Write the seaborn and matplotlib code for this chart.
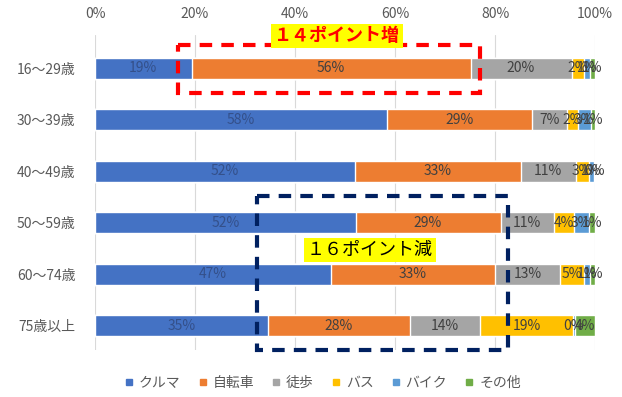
import numpy as np
import pandas as pd
import seaborn as sns
import matplotlib.pyplot as plt
from matplotlib.patches import Rectangle
from matplotlib.lines import Line2D

sns.set_style("white")
plt.rcParams["font.family"] = ["Noto Sans CJK JP", "DejaVu Sans"]

# Travel mode share by age group (%)
age_groups = ["16～29歳", "30～39歳", "40～49歳", "50～59歳", "60～74歳", "75歳以上"]
modes = ["クルマ", "自転車", "徒歩", "バス", "バイク", "その他"]
car = [19.3, 58.3, 51.9, 52.1, 47.2, 34.6]
bicycle = [55.8, 29.1, 33.2, 29.0, 32.8, 28.3]
walk = [20.2, 7.0, 11.0, 10.6, 13.0, 14.1]
bus = [2.4, 2.1, 2.6, 4.0, 4.8, 18.6]
motorbike = [1.2, 2.6, 1.0, 3.1, 1.2, 0.3]
other = [1.0, 0.9, 0.3, 1.2, 1.0, 4.1]
tick_labels = ["0%", "20%", "40%", "60%", "80%", "100%"]

colors = ["#4472C4", "#ED7D31", "#A5A5A5", "#FFC000", "#5B9BD5", "#70AD47"]

values = np.array([car, bicycle, walk, bus, motorbike, other])
cum = np.cumsum(values, axis=0)
df = pd.DataFrame({"age": age_groups})
for i, m in enumerate(modes):
    df[m + "_cum"] = cum[i]

fig = plt.figure(figsize=(6.22, 3.97), dpi=100)
ax = fig.add_axes([95 / 622, 1 - 350 / 397, 500 / 622, 315 / 397])

# Stacked bars: draw cumulative totals from the outermost segment inward
for i in range(len(modes) - 1, -1, -1):
    sns.barplot(data=df, x=modes[i] + "_cum", y="age", color=colors[i],
                width=0.4, saturation=1, orient="h", ax=ax, zorder=2)

# Segment value labels
for i in range(len(modes)):
    for j in range(len(age_groups)):
        v = values[i, j]
        xc = cum[i, j] - v / 2
        tc = "#34508a" if i == 0 else "#404040"
        ax.text(xc, j, f"{v:.0f}%", ha="center", va="center",
                fontsize=10, color=tc, zorder=3)

ax.set_xlim(0, 100)
ax.set_ylim(5.47, -0.645)
ax.set_xticks(np.arange(0, 101, 20))
ax.set_xticklabels(tick_labels)
ax.xaxis.tick_top()
ax.tick_params(axis="x", length=0, pad=10, labelsize=10, colors="#595959")
ax.tick_params(axis="y", length=0, pad=14, labelsize=10, colors="#595959")
ax.set_xlabel("")
ax.set_ylabel("")
ax.grid(axis="x", color="#d9d9d9", linewidth=0.8, zorder=0)
ax.set_axisbelow(True)
for s in ax.spines.values():
    s.set_visible(False)

# Highlight boxes
ax.add_patch(Rectangle((16.6, -0.45), 77.0 - 16.6, 0.94, fill=False,
                       edgecolor="#FF0000", linewidth=3,
                       linestyle=(0, (3, 2.2)), zorder=4, clip_on=False))
ax.add_patch(Rectangle((32.4, 2.48), 82.6 - 32.4, 5.47 - 2.48, fill=False,
                       edgecolor="#002060", linewidth=3,
                       linestyle=(0, (3, 2.2)), zorder=4, clip_on=False))

ax.text(48.4, -0.63, "１４ポイント増", ha="center", va="center", fontsize=13,
        fontweight="bold", color="#FF0000", zorder=5, clip_on=False,
        bbox=dict(facecolor="#FFFF00", edgecolor="none", pad=2))
ax.text(55.0, 3.53, "１６ポイント減", ha="center", va="center", fontsize=13,
        color="#000000", zorder=5,
        bbox=dict(facecolor="#FFFF00", edgecolor="none", pad=2))

handles = [Line2D([0], [0], marker="s", linestyle="none", markersize=5,
                  markerfacecolor=c, markeredgecolor=c) for c in colors]
fig.legend(handles, modes, loc="center", bbox_to_anchor=(0.518, 1 - 383 / 397),
           ncol=6, frameon=False, fontsize=10, handlelength=0.8,
           handletextpad=0.3, columnspacing=1.2, labelcolor="#595959")

fig.savefig("out.png", dpi=100)
